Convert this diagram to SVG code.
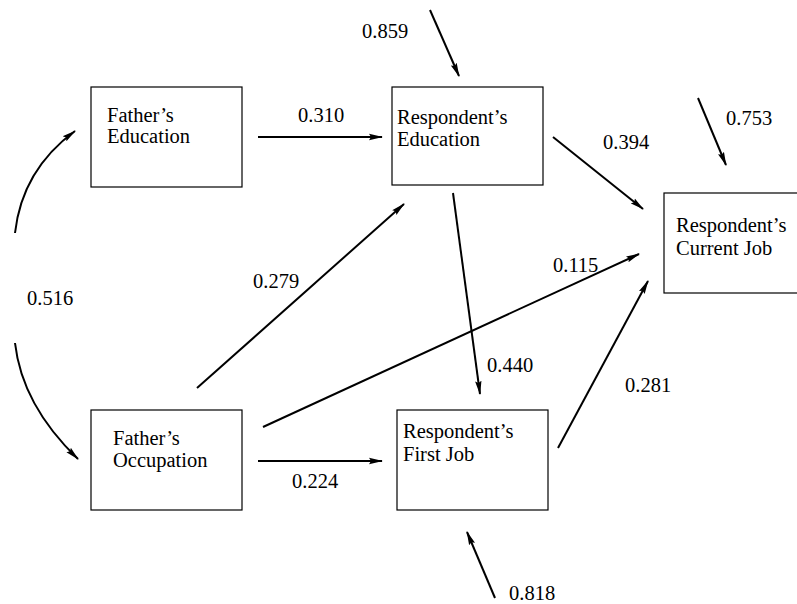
<svg xmlns="http://www.w3.org/2000/svg" width="797" height="604" viewBox="0 0 797 604">
<defs>
<marker id="ah" markerWidth="14" markerHeight="8" refX="13" refY="4" orient="auto" markerUnits="userSpaceOnUse">
<path d="M0,0.8 L14,4 L0,7.2 L2,4 Z" fill="#000"/>
</marker>
<style>
.box{fill:#fff;stroke:#000;stroke-width:1.2}
text{font-family:'Liberation Serif','Noto Serif','DejaVu Serif',serif;font-size:20.5px;fill:#000}
.ar{fill:none;stroke:#000;stroke-width:2;marker-end:url(#ah)}
</style>
</defs>
<rect width="797" height="604" fill="#fff"/>
<g id="connectors">
<path class="ar" d="M15,233 Q22,170 75,131"/>
<path class="ar" d="M15,343 Q22,405 78,459"/>
<line class="ar" x1="258" y1="137" x2="382" y2="137"/>
<line class="ar" x1="258" y1="461" x2="382" y2="461"/>
<line class="ar" x1="197" y1="388" x2="404" y2="204"/>
<path class="ar" d="M263,427 Q440,345 639,254"/>
<line class="ar" x1="453" y1="193" x2="480" y2="394"/>
<line class="ar" x1="553" y1="137" x2="643" y2="209"/>
<line class="ar" x1="558" y1="448" x2="648" y2="281"/>
<line class="ar" x1="430" y1="10" x2="459" y2="76"/>
<line class="ar" x1="698" y1="98" x2="726" y2="165"/>
<line class="ar" x1="495" y1="598" x2="467" y2="532"/>
<text x="27" y="305">0.516</text>
<text x="298" y="122">0.310</text>
<text x="292" y="488">0.224</text>
<text x="253" y="288">0.279</text>
<text x="553" y="272">0.115</text>
<text x="487" y="372">0.440</text>
<text x="603" y="149">0.394</text>
<text x="625" y="392">0.281</text>
<text x="362" y="38">0.859</text>
<text x="726" y="125">0.753</text>
<text x="509" y="600">0.818</text>
</g>
<g id="fathers-education">
<rect class="box" x="91" y="87" width="151" height="100"/>
<text x="107" y="122">Father’s</text>
<text x="107" y="143">Education</text>
</g>
<g id="respondents-education">
<rect class="box" x="392" y="87" width="151" height="98"/>
<text x="397" y="124">Respondent’s</text>
<text x="397" y="146">Education</text>
</g>
<g id="respondents-current-job">
<rect class="box" x="664" y="193" width="151" height="100"/>
<text x="676" y="232">Respondent’s</text>
<text x="676" y="255">Current Job</text>
</g>
<g id="fathers-occupation">
<rect class="box" x="91" y="410" width="151" height="100"/>
<text x="113" y="445">Father’s</text>
<text x="113" y="467">Occupation</text>
</g>
<g id="respondents-first-job">
<rect class="box" x="397" y="410" width="151" height="100"/>
<text x="403" y="438">Respondent’s</text>
<text x="403" y="461">First Job</text>
</g>
</svg>
